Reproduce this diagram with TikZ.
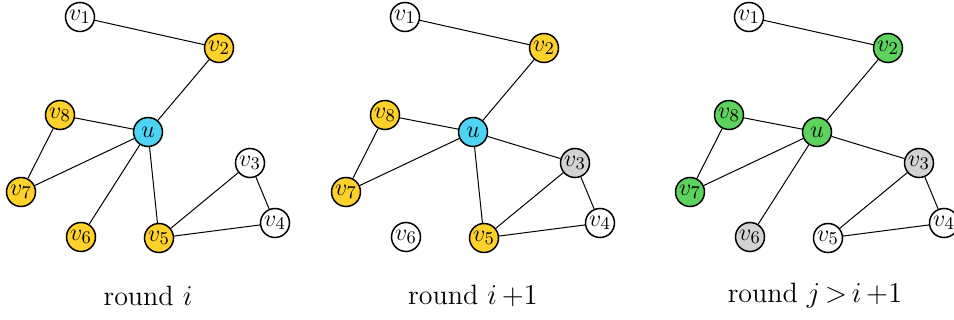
\documentclass[tikz,border=0pt]{standalone}
\usepackage{amsmath}
\usepackage{tikz}
\usetikzlibrary{arrows.meta}

\definecolor{azul}{HTML}{4DD4F5}
\definecolor{amarelo}{HTML}{FFD22B}
\definecolor{verde}{HTML}{5DD35D}
\definecolor{cinza}{HTML}{D3D3D3}

\begin{document}
\begin{tikzpicture}[x=0.5pt, y=-0.5pt,
    vert/.style={circle, draw, fill=white, line width=0.75pt, minimum size=14.5pt, inner sep=0pt, font=\fontsize{12.5}{14}\selectfont},
    aresta/.style={line width=0.5pt},
    rotulo/.style={font=\fontsize{14}{16}\selectfont}]

    \useasboundingbox (0,0) rectangle (954,320);

    % rodada i
    \begin{scope}[shift={(148,132)}]
        \node[vert, fill=azul] (a-u) at (0,0) {$u$};
        \node[vert] (a-v1) at (-68,-115) {$v_1$};
        \node[vert, fill=amarelo] (a-v2) at (71,-84) {$v_2$};
        \node[vert] (a-v3) at (102,31) {$v_3$};
        \node[vert] (a-v4) at (127,91) {$v_4$};
        \node[vert, fill=amarelo] (a-v5) at (11,106) {$v_5$};
        \node[vert, fill=amarelo] (a-v6) at (-67,105) {$v_6$};
        \node[vert, fill=amarelo] (a-v7) at (-127,60) {$v_7$};
        \node[vert, fill=amarelo] (a-v8) at (-88,-17) {$v_8$};

        \draw[aresta] (a-v1) -- (a-v2) -- (a-u);
        \draw[aresta] (a-v8) -- (a-u) -- (a-v7) -- (a-v8);
        \draw[aresta] (a-u) -- (a-v6);
        \draw[aresta] (a-u) -- (a-v5);
        \draw[aresta] (a-v5) -- (a-v3) -- (a-v4) -- (a-v5);

        \node[rotulo] (a-txt) at (0,164) {round $i$};
    \end{scope}

    % rodada i+1
    \begin{scope}[shift={(473,132)}]
        \node[vert, fill=azul] (b-u) at (0,0) {$u$};
        \node[vert] (b-v1) at (-68,-115) {$v_1$};
        \node[vert, fill=amarelo] (b-v2) at (71,-84) {$v_2$};
        \node[vert, fill=cinza] (b-v3) at (102,31) {$v_3$};
        \node[vert] (b-v4) at (127,91) {$v_4$};
        \node[vert, fill=amarelo] (b-v5) at (11,106) {$v_5$};
        \node[vert] (b-v6) at (-67,105) {$v_6$};
        \node[vert, fill=amarelo] (b-v7) at (-127,60) {$v_7$};
        \node[vert, fill=amarelo] (b-v8) at (-88,-17) {$v_8$};

        \draw[aresta] (b-v1) -- (b-v2) -- (b-u);
        \draw[aresta] (b-v8) -- (b-u) -- (b-v7) -- (b-v8);
        \draw[aresta] (b-u) -- (b-v3);
        \draw[aresta] (b-u) -- (b-v5);
        \draw[aresta] (b-v5) -- (b-v3) -- (b-v4) -- (b-v5);

        \node[rotulo] (b-txt) at (0,164) {round $i\,{+}1$};
    \end{scope}

    % rodada j > i+1
    \begin{scope}[shift={(817,132)}]
        \node[vert, fill=verde] (c-u) at (0,0) {$u$};
        \node[vert] (c-v1) at (-68,-115) {$v_1$};
        \node[vert, fill=verde] (c-v2) at (71,-84) {$v_2$};
        \node[vert, fill=cinza] (c-v3) at (102,31) {$v_3$};
        \node[vert] (c-v4) at (127,91) {$v_4$};
        \node[vert] (c-v5) at (11,106) {$v_5$};
        \node[vert, fill=cinza] (c-v6) at (-67,105) {$v_6$};
        \node[vert, fill=verde] (c-v7) at (-127,60) {$v_7$};
        \node[vert, fill=verde] (c-v8) at (-88,-17) {$v_8$};

        \draw[aresta] (c-v1) -- (c-v2) -- (c-u);
        \draw[aresta] (c-v8) -- (c-u) -- (c-v7) -- (c-v8);
        \draw[aresta] (c-u) -- (c-v6);
        \draw[aresta] (c-u) -- (c-v3);
        \draw[aresta] (c-v5) -- (c-v3) -- (c-v4) -- (c-v5);

        \node[rotulo] (c-txt) at (-2,164) {round $j\,{>}\,i\,{+}1$};
    \end{scope}

\end{tikzpicture}
\end{document}
